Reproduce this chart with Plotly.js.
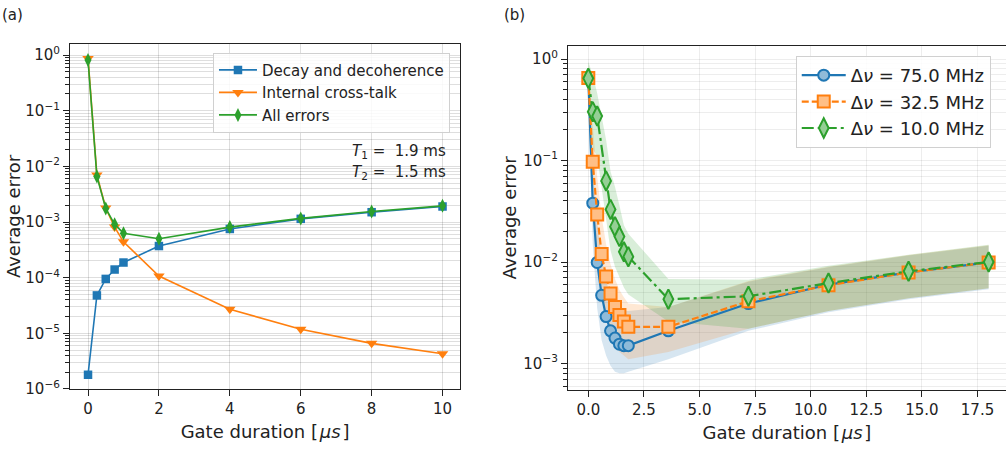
<!DOCTYPE html>
<html>
<head>
<meta charset="utf-8">
<script src="https://cdn.plot.ly/plotly-3.0.1.min.js"></script>
<style>
html,body{margin:0;padding:0;overflow:hidden;background:#fff;}
#chart{width:1006px;height:450px;}
</style>
</head>
<body>
<div id="chart"></div>
<script>
// ---------- Panel (a) data ----------
const xA = [0, 0.25, 0.5, 0.75, 1, 2, 4, 6, 8, 10];
const decayErr = [1.8e-6, 4.8e-5, 9.5e-5, 1.4e-4, 1.87e-4, 3.7e-4, 7.5e-4, 1.14e-3, 1.5e-3, 1.9e-3];
const crossTalkErr = [0.87, 7.0e-3, 1.78e-3, 8.1e-4, 4.4e-4, 1.07e-4, 2.7e-5, 1.18e-5, 6.6e-6, 4.3e-6];
const allErr = [0.81, 6.6e-3, 1.75e-3, 9.1e-4, 6.3e-4, 5.0e-4, 8.1e-4, 1.16e-3, 1.54e-3, 1.95e-3];
const seriesNamesA = ["Decay and decoherence", "Internal cross-talk", "All errors"];

// ---------- Panel (b) data ----------
const xB = [0, 0.2, 0.4, 0.6, 0.8, 1.0, 1.2, 1.4, 1.6, 1.8, 3.6, 7.2, 10.8, 14.4, 18.0];
const err75 = [0.65, 0.038, 0.0099, 0.0047, 0.0029, 0.0021, 0.00178, 0.00155, 0.0015, 0.0015, 0.0021, 0.0039, 0.0060, 0.0079, 0.0099];
const err75Lo = [0.42, 0.015, 0.0035, 0.0017, 0.0012, 0.00095, 0.00083, 0.0008, 0.0008, 0.00083, 0.0011, 0.0021, 0.0032, 0.0043, 0.0054];
const err75Hi = [0.9, 0.09, 0.025, 0.011, 0.0065, 0.0047, 0.004, 0.0035, 0.0033, 0.0033, 0.0036, 0.0064, 0.0089, 0.0116, 0.0145];

const err32 = [0.65, 0.097, 0.0294, 0.012, 0.0072, 0.0049, 0.0036, 0.0030, 0.0026, 0.0023, 0.0023, 0.0041, 0.0059, 0.0079, 0.0099];
const err32Lo = [0.42, 0.04, 0.012, 0.0048, 0.0028, 0.0019, 0.0015, 0.0013, 0.0012, 0.0011, 0.0013, 0.0022, 0.0033, 0.0044, 0.0055];
const err32Hi = [0.9, 0.22, 0.07, 0.028, 0.015, 0.0095, 0.0068, 0.0053, 0.0045, 0.0039, 0.0036, 0.0065, 0.0090, 0.0117, 0.0146];

const xG = [0, 0.2, 0.4, 0.8, 1.0, 1.2, 1.4, 1.6, 1.8, 3.6, 7.2, 10.8, 14.4, 18.0];
const err10 = [0.645, 0.303, 0.274, 0.063, 0.033, 0.0223, 0.0178, 0.0126, 0.0113, 0.0043, 0.0046, 0.0062, 0.0081, 0.0100];
const err10Lo = [0.40, 0.13, 0.11, 0.025, 0.013, 0.009, 0.0072, 0.0056, 0.0048, 0.0026, 0.0022, 0.0033, 0.0044, 0.0055];
const err10Hi = [0.94, 0.70, 0.46, 0.16, 0.078, 0.055, 0.036, 0.023, 0.019, 0.0068, 0.0067, 0.0092, 0.0118, 0.0148];
const seriesNamesB = ["Δ<i>ν</i> = 75.0 MHz", "Δ<i>ν</i> = 32.5 MHz", "Δ<i>ν</i> = 10.0 MHz"];

// tick labels
const decadesA = [1e-6, 1e-5, 1e-4, 1e-3, 1e-2, 1e-1, 1];
const decadeLabelsA = ["10<sup>−6</sup>", "10<sup>−5</sup>", "10<sup>−4</sup>", "10<sup>−3</sup>", "10<sup>−2</sup>", "10<sup>−1</sup>", "10<sup>0</sup>"];
const decadesB = [1e-3, 1e-2, 1e-1, 1];
const decadeLabelsB = ["10<sup>−3</sup>", "10<sup>−2</sup>", "10<sup>−1</sup>", "10<sup>0</sup>"];
const xTicksA = [0, 2, 4, 6, 8, 10];
const xTicksB = [0, 2.5, 5, 7.5, 10, 12.5, 15, 17.5];
const xTickLabelsB = ["0.0", "2.5", "5.0", "7.5", "10.0", "12.5", "15.0", "17.5"];

function minorVals(d0, d1) {
  const v = [];
  for (let k = d0; k <= d1; k++) for (let m = 2; m <= 9; m++) v.push(m * Math.pow(10, k));
  return v;
}

const C0 = '#1f77b4', C1 = '#ff7f0e', C2 = '#2ca02c';

const traces = [
  // panel (a)
  {x: xA, y: decayErr, name: seriesNamesA[0], type: 'scatter', mode: 'lines+markers', xaxis: 'x', yaxis: 'y',
   line: {color: C0, width: 1.6}, marker: {symbol: 'square', size: 8.5, color: C0}, legend: 'legend'},
  {x: xA, y: crossTalkErr, name: seriesNamesA[1], type: 'scatter', mode: 'lines+markers', xaxis: 'x', yaxis: 'y',
   line: {color: C1, width: 1.6}, marker: {symbol: 'triangle-down', size: 10, color: C1}, legend: 'legend'},
  {x: xA, y: allErr, name: seriesNamesA[2], type: 'scatter', mode: 'lines+markers', xaxis: 'x', yaxis: 'y',
   line: {color: C2, width: 1.6}, marker: {symbol: 'diamond-tall', size: 10, color: C2}, legend: 'legend'},

  // panel (b) bands
  {x: xB, y: err75Lo, type: 'scatter', mode: 'lines', xaxis: 'x2', yaxis: 'y2', line: {width: 0, color: C0}, showlegend: false, hoverinfo: 'skip'},
  {x: xB, y: err75Hi, type: 'scatter', mode: 'lines', xaxis: 'x2', yaxis: 'y2', line: {width: 0, color: C0}, fill: 'tonexty', fillcolor: 'rgba(31,119,180,0.18)', showlegend: false, hoverinfo: 'skip'},
  {x: xB, y: err32Lo, type: 'scatter', mode: 'lines', xaxis: 'x2', yaxis: 'y2', line: {width: 0, color: C1}, showlegend: false, hoverinfo: 'skip'},
  {x: xB, y: err32Hi, type: 'scatter', mode: 'lines', xaxis: 'x2', yaxis: 'y2', line: {width: 0, color: C1}, fill: 'tonexty', fillcolor: 'rgba(255,127,14,0.18)', showlegend: false, hoverinfo: 'skip'},
  {x: xG, y: err10Lo, type: 'scatter', mode: 'lines', xaxis: 'x2', yaxis: 'y2', line: {width: 0, color: C2}, showlegend: false, hoverinfo: 'skip'},
  {x: xG, y: err10Hi, type: 'scatter', mode: 'lines', xaxis: 'x2', yaxis: 'y2', line: {width: 0, color: C2}, fill: 'tonexty', fillcolor: 'rgba(44,160,44,0.18)', showlegend: false, hoverinfo: 'skip'},

  // panel (b) lines
  {x: xB, y: err75, name: seriesNamesB[0], type: 'scatter', mode: 'lines+markers', xaxis: 'x2', yaxis: 'y2', legend: 'legend2',
   line: {color: C0, width: 2.2}, marker: {symbol: 'circle', size: 11, color: 'rgb(143,187,217)', line: {color: C0, width: 2}}},
  {x: xB, y: err32, name: seriesNamesB[1], type: 'scatter', mode: 'lines+markers', xaxis: 'x2', yaxis: 'y2', legend: 'legend2',
   line: {color: C1, width: 2.2, dash: '7px,3px'}, marker: {symbol: 'square', size: 12, color: 'rgb(255,191,134)', line: {color: C1, width: 2}}},
  {x: xG, y: err10, name: seriesNamesB[2], type: 'scatter', mode: 'lines+markers', xaxis: 'x2', yaxis: 'y2', legend: 'legend2',
   line: {color: C2, width: 2.2, dash: '12px,4px,3px,4px'}, marker: {symbol: 'diamond-tall', size: 14, color: 'rgb(149,207,149)', line: {color: C2, width: 2}}}
];

const gridA = 'rgba(0,0,0,0.13)';
const gridB = 'rgba(0,0,0,0.07)';
const axisCommon = {showline: true, linecolor: '#222', linewidth: 1.2, ticks: 'outside', ticklen: 6, tickwidth: 1.1, tickcolor: '#222', zeroline: false, tickfont: {size: 15, color: '#222'}};
const xTitleText = 'Gate duration [\u200A<i>μs</i>\u200A]';

const layout = {
  width: 1006, height: 450,
  margin: {l: 0, r: 0, t: 0, b: 0},
  paper_bgcolor: '#fff', plot_bgcolor: '#fff',
  font: {family: 'DejaVu Sans, sans-serif', size: 15, color: '#222'},
  showlegend: true,
  xaxis: Object.assign({}, axisCommon, {
    domain: [0.0696, 0.4573], anchor: 'y', range: [-0.508, 10.494], mirror: true,
    tickmode: 'array', tickvals: xTicksA, showgrid: true, gridcolor: gridA, gridwidth: 1,
    title: {text: xTitleText, font: {size: 18}, standoff: 8}
  }),
  yaxis: Object.assign({}, axisCommon, {
    type: 'log', domain: [0.1356, 0.9022], anchor: 'x', range: [-6.0, 0.198], mirror: true,
    tickmode: 'array', tickvals: decadesA, ticktext: decadeLabelsA, showgrid: true, gridcolor: gridA,
    minor: {tickmode: 'array', tickvals: minorVals(-6, 0), ticks: 'outside', ticklen: 3.5, tickcolor: '#222', showgrid: true, gridcolor: gridA},
    title: {text: 'Average error', font: {size: 18}, standoff: 0}
  }),
  xaxis2: Object.assign({}, axisCommon, {
    domain: [0.5646, 1.0], anchor: 'y2', range: [-0.913, 18.78], mirror: true,
    tickmode: 'array', tickvals: xTicksB, ticktext: xTickLabelsB, showgrid: true, gridcolor: gridB,
    title: {text: xTitleText, font: {size: 18}, standoff: 8}
  }),
  yaxis2: Object.assign({}, axisCommon, {
    type: 'log', domain: [0.1333, 0.8984], anchor: 'x2', range: [-3.261, 0.131], mirror: false,
    tickmode: 'array', tickvals: decadesB, ticktext: decadeLabelsB, showgrid: true, gridcolor: gridB,
    minor: {tickmode: 'array', tickvals: minorVals(-4, 0), ticks: 'outside', ticklen: 3.5, tickcolor: '#222', showgrid: true, gridcolor: gridB},
    title: {text: 'Average error', font: {size: 18}, standoff: 2}
  }),
  legend: {x: 0.2117, y: 0.883, xanchor: 'left', yanchor: 'top', bgcolor: 'rgba(255,255,255,0.85)', traceorder: 'normal',
    bordercolor: '#d0d0d0', borderwidth: 1, font: {size: 15}, itemwidth: 38, tracegroupgap: 0},
  legend2: {x: 0.791, y: 0.8756, xanchor: 'left', yanchor: 'top', bgcolor: 'rgba(255,255,255,0.85)', traceorder: 'normal',
    bordercolor: '#d0d0d0', borderwidth: 1, font: {size: 18}, itemwidth: 44, tracegroupgap: 0},
  annotations: [
    {text: '(a)', xref: 'paper', yref: 'paper', x: 0.0, y: 1 - 15 / 450, xanchor: 'left', yanchor: 'middle', showarrow: false, font: {size: 15}},
    {text: '(b)', xref: 'paper', yref: 'paper', x: 0.499, y: 1 - 15 / 450, xanchor: 'left', yanchor: 'middle', showarrow: false, font: {size: 15}},
    {text: '<i>T</i><sub>1</sub> =  1.9 ms', xref: 'paper', yref: 'paper', x: 448 / 1006, y: 1 - 151 / 450, xanchor: 'right', yanchor: 'middle', showarrow: false, font: {size: 15}},
    {text: '<i>T</i><sub>2</sub> =  1.5 ms', xref: 'paper', yref: 'paper', x: 448 / 1006, y: 1 - 172 / 450, xanchor: 'right', yanchor: 'middle', showarrow: false, font: {size: 15}}
  ]
};

Plotly.newPlot('chart', traces, layout, {displayModeBar: false});
</script>
</body>
</html>
